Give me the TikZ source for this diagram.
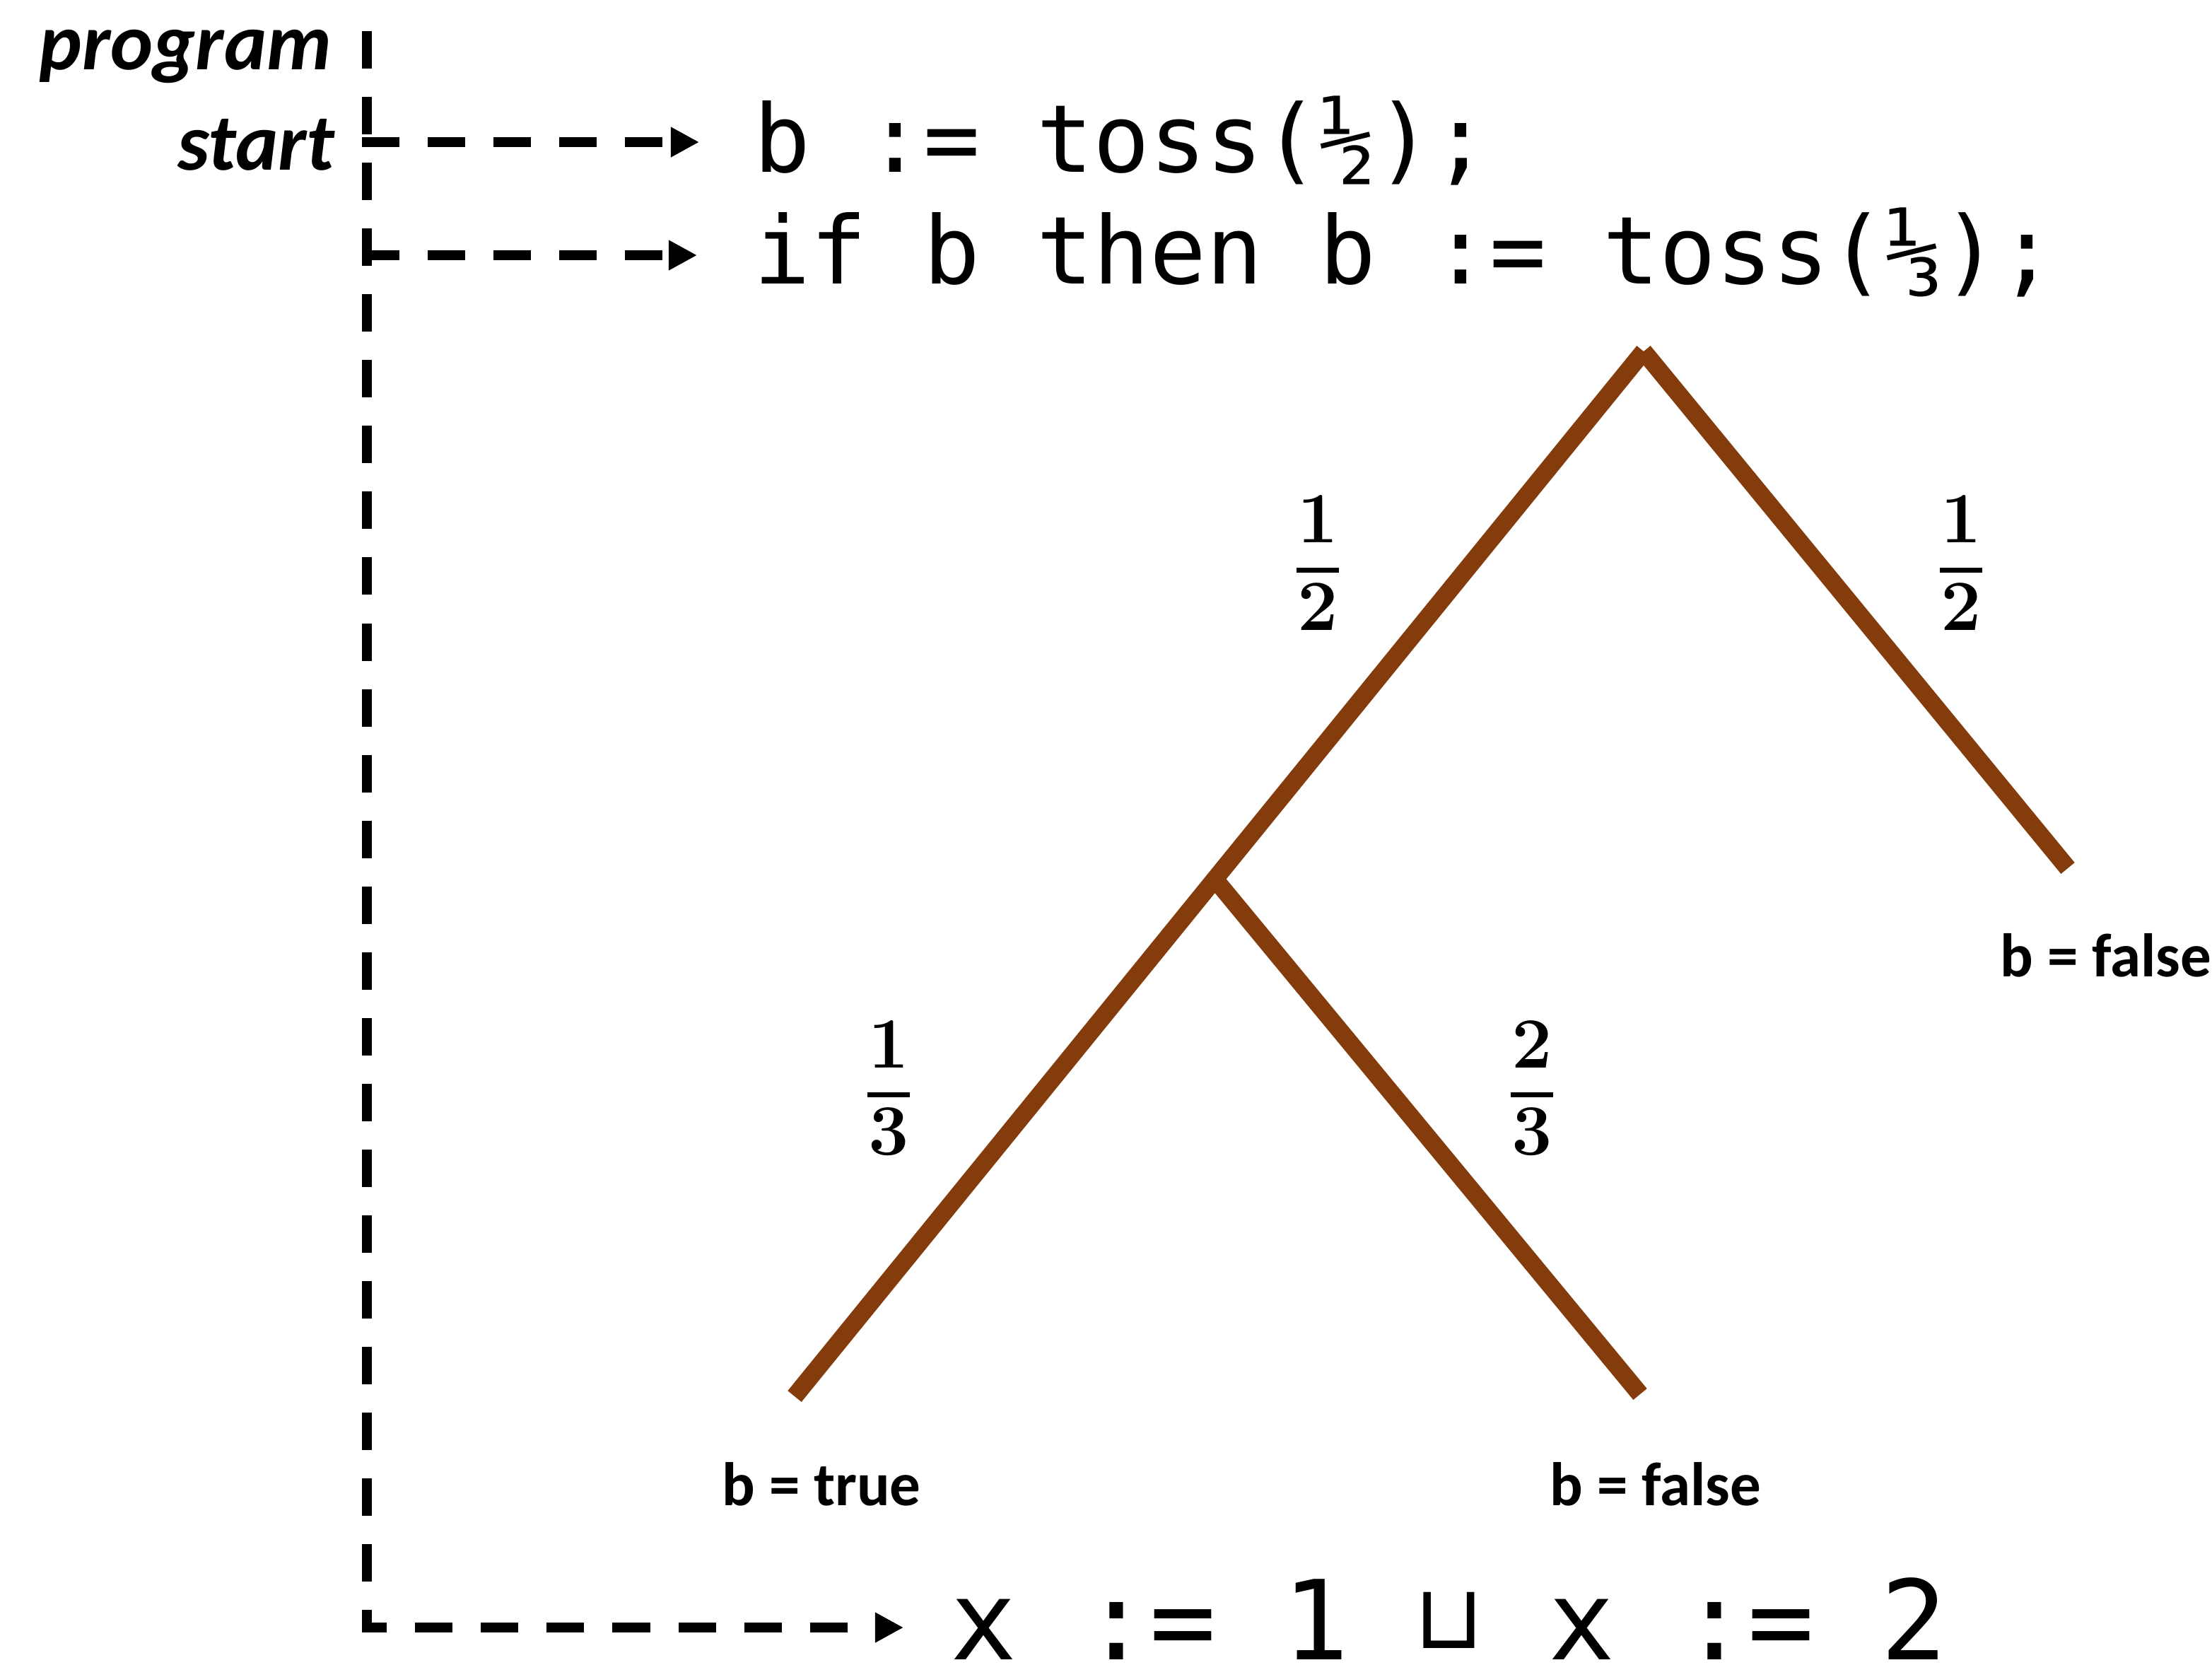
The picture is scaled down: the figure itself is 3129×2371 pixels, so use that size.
\documentclass[tikz,border=0pt]{standalone}
\usepackage{fontspec}
\newfontfamily\labfont{Carlito}
\newfontfamily\codefont{DejaVu Sans Mono}
\newfontfamily\symfont{DejaVu Sans}
\usetikzlibrary{arrows.meta}
\definecolor{treebrown}{RGB}{132,60,12}
\newcommand{\frc}[2]{\vbox{\offinterlineskip\halign{\hfil##\hfil\cr\textbf{#1}\cr\noalign{\vskip 10pt}\rule{17pt}{2pt}\cr\noalign{\vskip 4pt}\textbf{#2}\cr}}}
\begin{document}
\begin{tikzpicture}[x=0.01cm,y=-0.01cm,
  flow/.style={line width=0.135cm, dash pattern=on 0.53cm off 0.40cm},
  flowarrow/.style={flow, -{Triangle[length=0.4cm,width=0.4cm]}},
  branch/.style={line width=0.25cm, treebrown},
  code/.style={inner sep=0, anchor=base west, font=\codefont\fontsize{37.8}{40}\selectfont},
  bigcode/.style={inner sep=0, anchor=base west, text depth=0pt, font=\codefont\fontsize{44.4}{46}\selectfont},
  tag/.style={inner sep=0, anchor=base east, font=\labfont\bfseries\itshape\fontsize{32.5}{34}\selectfont},
  outcome/.style={inner sep=0, anchor=base west, font=\labfont\bfseries\fontsize{24.75}{26}\selectfont},
  prob/.style={inner sep=0, anchor=center, font=\fontsize{29}{29}\selectfont}
]
\path[fill=white] (0,0) rectangle (3129,2371);

% labels
\node[tag] (prog) at (470,98) {program};
\node[tag] (start) at (474,240) {start};

% code
\node[code] (l1) at (1066,243) {b := toss(½);};
\node[code] (l2) at (1066,401) {if b then b := toss(⅓);};
\node[bigcode] (l3) at (1344,2347) {x := 1 \makebox[0.602em]{\raisebox{4.5pt}{\symfont\fontsize{36}{36}\selectfont ⊔}} x := 2};

% flow arrows
\coordinate (top) at (519,44);
\coordinate (corner) at (519,2302);
\coordinate (s1) at (512,201);
\coordinate (e1) at (989,201);
\coordinate (s2) at (512,361);
\coordinate (e2) at (986,361);
\coordinate (e3) at (1278,2302);
\draw[flowarrow] (top) -- (corner) -- (e3);
\draw[flowarrow] (s1) -- (e1);
\draw[flowarrow] (s2) -- (e2);

% tree
\coordinate (root) at (2325,497);
\coordinate (mid) at (1719,1244);
\coordinate (leafLL) at (1124,1975);
\coordinate (leafLR) at (2320,1972);
\coordinate (leafR) at (2925,1228);
\draw[branch] (root) -- (leafLL);
\draw[branch] (mid) -- (leafLR);
\draw[branch] (root) -- (leafR);

% probabilities
\node[prob] (f1) at (1864,796) {\frc{1}{2}};
\node[prob] (f2) at (2774,796) {\frc{1}{2}};
\node[prob] (f3) at (1257,1539) {\frc{1}{3}};
\node[prob] (f4) at (2167,1539) {\frc{2}{3}};

% outcomes
\node[outcome] (o1) at (1021,2129) {b = true};
\node[outcome] (o2) at (2192,2129) {b = false};
\node[outcome] (o3) at (2829,1381) {b = false};
\end{tikzpicture}
\end{document}
